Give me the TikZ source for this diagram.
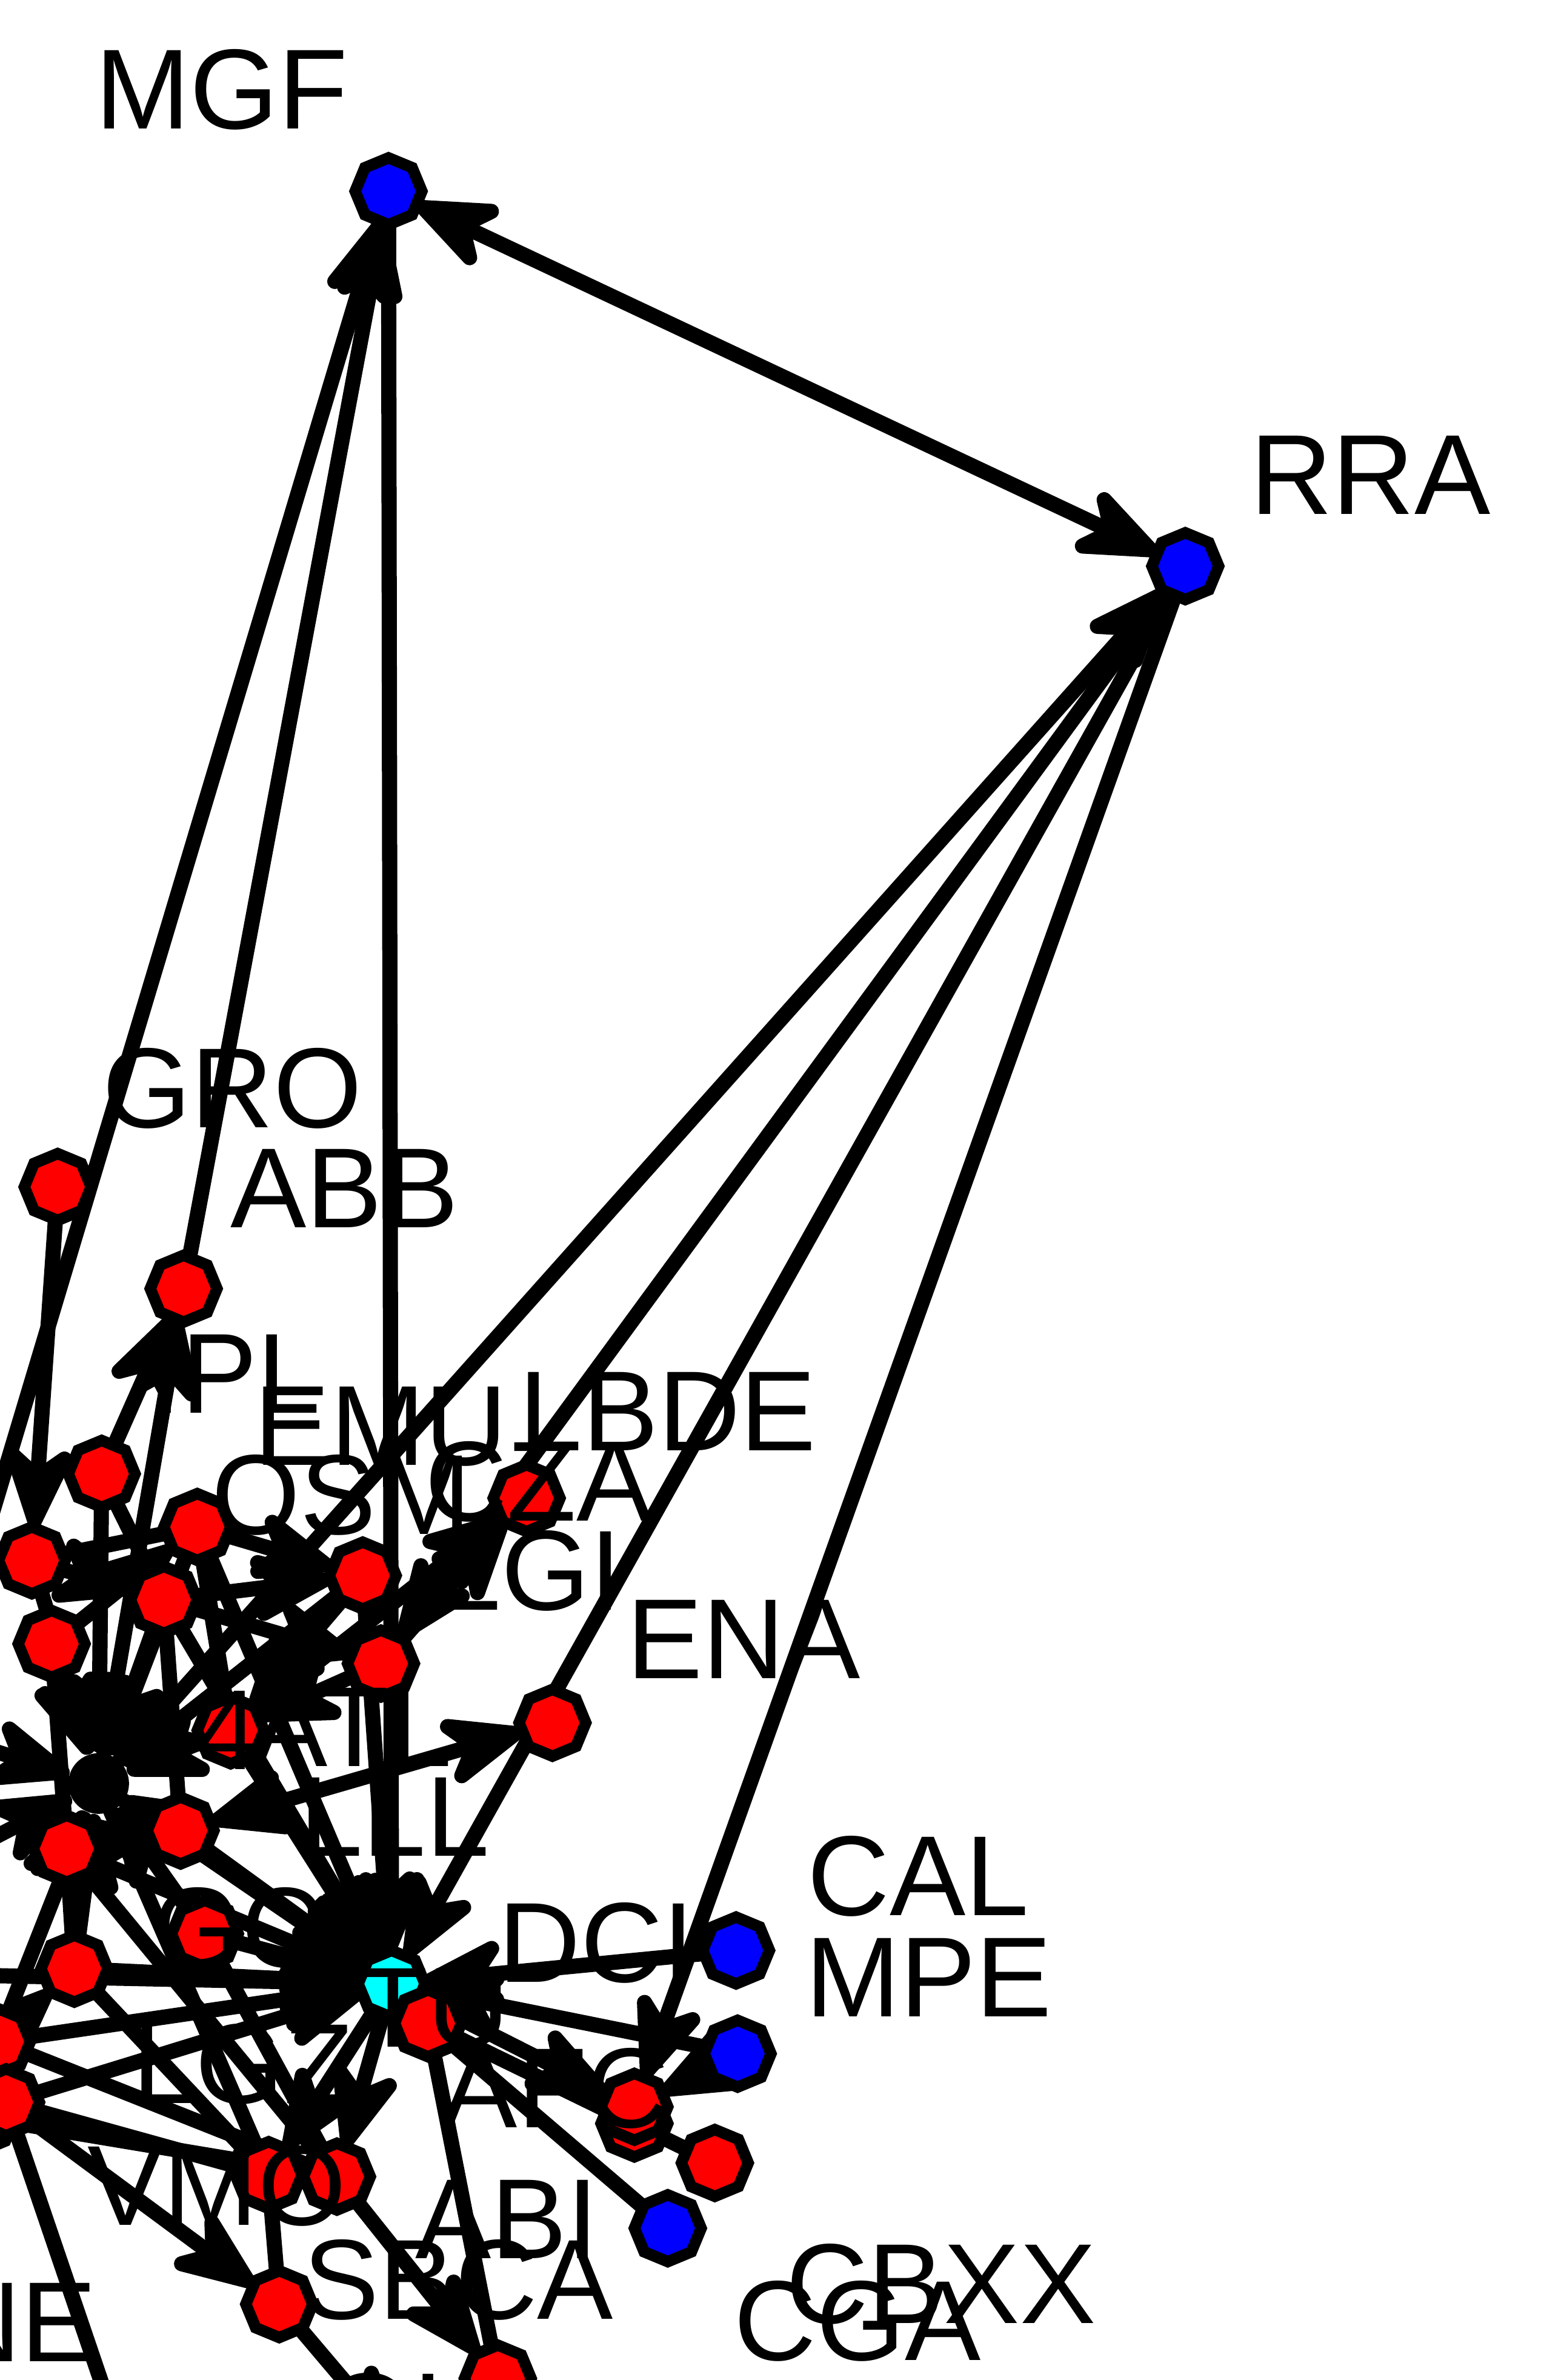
\documentclass[tikz,border=0pt]{standalone}
\usepackage{fontspec}
\setmainfont{Liberation Sans}
\usetikzlibrary{arrows.meta,shapes.geometric}
\definecolor{vred}{RGB}{255,0,0}
\definecolor{vblue}{RGB}{0,0,255}
\definecolor{vcyan}{RGB}{0,255,255}
\pgfdeclarelayer{bg}
\pgfsetlayers{bg,main}
\begin{document}
\begin{tikzpicture}[x=1pt,y=-1pt,
  vtx/.style={regular polygon,regular polygon sides=8,shape border rotate=22.5,minimum size=44pt,inner sep=0pt,outer sep=0pt,draw=black,line width=7.5pt},
  rv/.style={vtx,fill=vred},
  bv/.style={vtx,fill=vblue},
  cv/.style={vtx,fill=vcyan},
  edge/.style={draw=black,line width=10pt,line cap=round,line join=round},
  ar/.style={edge,-{Stealth[length=70pt,width=56pt,inset=22pt,round]}},
  ar2/.style={edge,{Stealth[length=70pt,width=56pt,inset=22pt,round]}-{Stealth[length=70pt,width=56pt,inset=22pt,round]}},
  lab/.style={inner sep=0pt,outer sep=0pt,font=\fontsize{75}{75}\selectfont}
]
\useasboundingbox (0,0) rectangle (1015,1568);
% ---------- vertices ----------
\node[bv] (mgf) at (256,126) {};
\node[bv] (rra) at (781,373) {};
\node[rv] (gro) at (38,782) {};
\node[rv] (abb) at (121,849) {};
\node[rv] (n1) at (67,971) {};
\node[rv] (n2) at (21,1028) {};
\node[rv] (n3) at (130,1006) {};
\node[rv] (n4) at (108,1054) {};
\node[rv] (n5) at (34,1083) {};
\node[rv] (n6) at (239,1038) {};
\node[rv] (n7) at (251,1096) {};
\node[rv] (cza) at (347,987) {};
\node[rv] (ena) at (364,1135) {};
\node[rv] (n8) at (152,1140) {};
\node[rv] (n9) at (44,1218) {};
\node[rv] (n10) at (119,1206) {};
\node[rv] (n11) at (49,1297) {};
\node[rv] (gc) at (135,1274) {};
\node[rv] (l1) at (-2,1345) {};
\node[rv] (l3) at (-12,1395) {};
\node[rv] (l2) at (4,1385) {};
\node[cv] (cy) at (258,1307) {};
\node[rv] (tu) at (282,1333) {};
\node[rv] (vmo1) at (177,1433) {};
\node[rv] (vmo2) at (222,1434) {};
\node[rv] (sb) at (184,1518) {};
\node[rv] (bot) at (328,1567) {};
\node[rv] (afc2) at (418,1399) {};
\node[rv] (afc1) at (418,1388) {};
\node[rv] (r4) at (471,1425) {};
\node[bv] (cal) at (485,1285) {};
\node[bv] (mpe) at (486,1353) {};
\node[bv] (bx) at (440,1468) {};
\node[circle,fill=black,minimum size=40pt,inner sep=0pt] (H) at (65,1175) {};
\coordinate (offA) at (-60,1180);
\coordinate (offB) at (84,1620);
\coordinate (offC) at (262,1610);
\coordinate (offL1) at (-80,1130);
\coordinate (offL2) at (-80,1250);
\coordinate (offL3) at (-80,1300);
\coordinate (offL4) at (-80,1460);
% ---------- edges ----------
\begin{pgfonlayer}{bg}
\clip (0,0) rectangle (1015,1568);
\draw[ar2] (mgf) -- (rra);
\draw[ar] (offA) -- (mgf);
\draw[ar] (abb) -- (mgf);
\draw[ar] (mgf) -- (cy);
\draw[ar] (gro) -- (n2);
\draw[ar] (n1) -- (abb);
\draw[ar] (H) -- (abb);
\draw[ar] (H) -- (rra);
\draw[ar] (rra) -- (n7);
\draw[ar] (rra) -- (cy);
\draw[ar] (rra) -- (afc1);
\draw[ar] (n7) -- (cza);
\draw[ar] (n8) -- (cza);
\draw[ar2] (n10) -- (ena);
% cluster into hub
\draw[ar] (n1) -- (H);
\draw[ar] (n2) -- (H);
\draw[ar] (n3) -- (H);
\draw[ar] (n4) -- (H);
\draw[ar] (n5) -- (H);
\draw[ar] (n6) -- (H);
\draw[ar] (n8) -- (H);
\draw[ar] (n9) -- (H);
\draw[ar] (n10) -- (H);
\draw[ar] (n11) -- (H);
\draw[ar] (gc) -- (H);
\draw[ar] (l1) -- (H);
\draw[ar] (offL1) -- (H);
\draw[ar] (offL2) -- (H);
% cluster among themselves
\draw[ar] (n7) -- (n8);
\draw[ar] (n3) -- (n6);
\draw[ar] (n2) -- (n4);
\draw[ar] (n5) -- (n3);
\draw[ar] (n4) -- (n6);
\draw[edge] (n1) -- (n4);
\draw[ar] (n6) -- (n8);
\draw[edge] (n3) -- (n8);
\draw[edge] (n5) -- (n9);
\draw[ar] (n9) -- (n10);
\draw[edge] (n4) -- (n10);
\draw[edge] (n2) -- (n3);
\draw[ar] (n4) -- (n7);
% into cyan
\draw[ar] (n6) -- (cy);
\draw[ar] (n8) -- (cy);
\draw[ar] (n10) -- (cy);
\draw[ar] (H) -- (cy);
\draw[ar] (n9) -- (cy);
\draw[ar] (gc) -- (cy);
\draw[ar] (n11) -- (cy);
\draw[ar] (l1) -- (cy);
\draw[ar] (l2) -- (cy);
\draw[ar] (n4) -- (cy);
\draw[ar] (n3) -- (cy);
\draw[ar] (cal) -- (cy);
\draw[ar] (mpe) -- (cy);
\draw[ar] (offL3) -- (cy);
\draw[ar] (cy) -- (vmo1);
\draw[ar] (cy) -- (vmo2);
\draw[ar] (cy) -- (afc1);
\draw[edge] (tu) -- (r4);
\draw[edge] (tu) -- (bx);
\draw[ar] (mpe) -- (afc1);
\draw[edge] (tu) -- (bot);
% lower part
\draw[edge] (l2) -- (vmo1);
\draw[edge] (l1) -- (vmo2);
\draw[edge] (n11) -- (vmo1);
\draw[edge] (n9) -- (vmo2);
\draw[ar] (l2) -- (sb);
\draw[edge] (l2) -- (offB);
\draw[ar] (vmo2) -- (bot);
\draw[edge] (vmo1) -- (sb);
\draw[ar] (sb) -- (offC);
\draw[edge] (gc) -- (vmo2);
\draw[edge] (H) -- (vmo1);
\draw[edge] (l3) -- (vmo2);
\draw[ar] (offL4) -- (l2);
\draw[edge] (n11) -- (n9);
\draw[ar] (l1) -- (n11);
\end{pgfonlayer}
% ---------- labels ----------
\node[lab] (tMGF) at (146,59) {MGF};
\node[lab] (tRRA) at (903,313) {RRA};
\node[lab] (tGRO) at (153,717) {GRO};
\node[lab] (tABB) at (227,783) {ABB};
\node[lab] (tIPL) at (155,905) {IPL};
\node[lab] (tEMU) at (251,940) {EMU};
\node[lab] (tLBDE) at (440,930) {LBDE};
\node[lab] (tOSM) at (225,985) {OSM};
\node[lab] (tCZA) at (355,976) {CZA};
\node[lab] (tLGI) at (349,1035) {LGI};
\node[lab] (tENA) at (490,1080) {ENA};
\node[lab] (t4) at (150,1140) {4};
\node[lab] (tATL) at (232,1138) {ATL};
\node[lab] (tLLL) at (260,1197) {LLL};
\node[lab] (tGC) at (157,1270) {GC};
\node[lab] (tDCI) at (393,1280) {DCI};
\node[lab] (tCAL) at (605,1236) {CAL};
\node[lab] (tMPE) at (612,1303) {MPE};
\node[lab] (tTU) at (286,1323) {TU};
\node[lab] (tLGZ) at (160,1360) {LGZ};
\node[lab] (tAFC) at (366,1376) {AFC};
\node[lab] (tVMO) at (143,1440) {VMO};
\node[lab] (tABI) at (334,1462) {ABI};
\node[lab] (tSBCA) at (302,1502) {SBCA};
\node[lab] (tCBXX) at (620,1505) {CBXX};
\node[lab] (tCGA) at (565,1529) {CGA};
\node[lab,anchor=east] (tNE) at (64,1530) {NE};
\node[lab,anchor=west] (tOL) at (214,1590) {OL};
\end{tikzpicture}
\end{document}
